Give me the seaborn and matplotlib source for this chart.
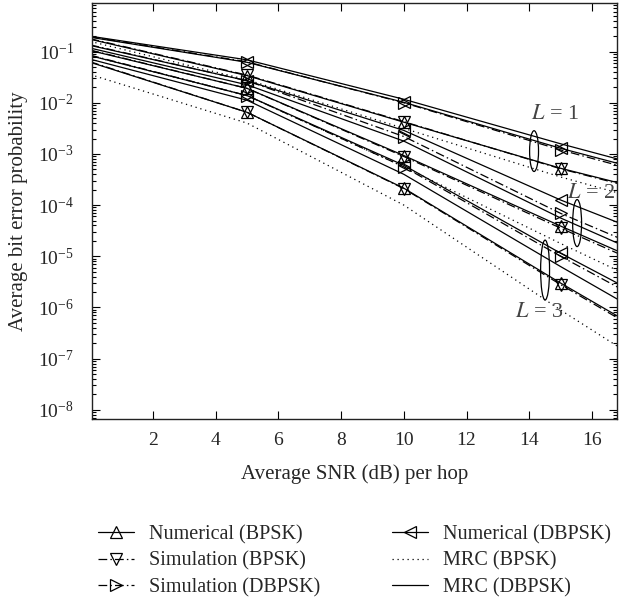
import matplotlib
matplotlib.use("Agg")
import matplotlib.pyplot as plt
from matplotlib.lines import Line2D
from matplotlib.patches import Ellipse
from matplotlib.ticker import LogLocator, NullFormatter, FixedLocator
import numpy as np
import pandas as pd
import seaborn as sns

# Average SNR per hop (dB)
snr_db = [0, 5, 10, 15, 20]

# Bit error probability for L = 1, 2, 3 branches
num_bpsk = {
    1: [1.74e-1, 3.39e-2, 4.17e-3, 5.25e-4, 8.9e-5],
    2: [1.05e-1, 1.91e-2, 9.3e-4, 3.9e-5, 1.78e-6],
    3: [6.17e-2, 6.5e-3, 2.14e-4, 3.0e-6, 5.0e-8],
}
sim_bpsk = {
    1: [1.78e-1, 3.47e-2, 4.27e-3, 5.13e-4, 8.3e-5],
    2: [1.07e-1, 1.91e-2, 8.9e-4, 3.55e-5, 1.58e-6],
    3: [6.3e-2, 6.5e-3, 2.1e-4, 2.8e-6, 4.5e-8],
}
num_dbpsk = {
    1: [1.905e-1, 6.17e-2, 1.02e-2, 1.29e-3, 2.0e-4],
    2: [1.32e-1, 2.69e-2, 2.88e-3, 1.26e-4, 7.9e-6],
    3: [8.3e-2, 1.38e-2, 6.0e-4, 1.15e-5, 2.8e-7],
}
sim_dbpsk = {
    1: [1.95e-1, 6.3e-2, 1.0e-2, 1.2e-3, 1.78e-4],
    2: [1.35e-1, 2.69e-2, 2.19e-3, 6.9e-5, 3.5e-6],
    3: [8.5e-2, 1.38e-2, 5.6e-4, 1.0e-5, 2.2e-7],
}
mrc_bpsk = {
    1: [1.58e-1, 2.82e-2, 3.16e-3, 3.55e-4, 5.0e-5],
    2: [8.3e-2, 1.38e-2, 5.6e-4, 1.78e-5, 6.3e-7],
    3: [3.55e-2, 4.0e-3, 1.0e-4, 8.9e-7, 1.0e-8],
}
mrc_dbpsk = {
    1: [2.0e-1, 6.9e-2, 1.17e-2, 1.58e-3, 2.4e-4],
    2: [1.17e-1, 2.24e-2, 1.78e-3, 5.6e-5, 2.5e-6],
    3: [7.1e-2, 1.12e-2, 4.0e-4, 6.3e-6, 1.1e-7],
}

branches = [1, 2, 3]
marker_idx = [1, 2, 3]

dashdot = (0, (7, 2.5, 1.2, 2.5))
dotted = (0, (1, 3))

series = [
    ("Numerical (BPSK)", num_bpsk, "-", "^"),
    ("Simulation (BPSK)", sim_bpsk, dashdot, "v"),
    ("Simulation (DBPSK)", sim_dbpsk, dashdot, ">"),
    ("Numerical (DBPSK)", num_dbpsk, "-", "<"),
    ("MRC (BPSK)", mrc_bpsk, dotted, None),
    ("MRC (DBPSK)", mrc_dbpsk, "-", None),
]

sns.set_style("ticks")
plt.rcParams["font.family"] = ["Liberation Serif", "DejaVu Serif"]
plt.rcParams["mathtext.fontset"] = "stix"
plt.rcParams["font.size"] = 15

fig = plt.figure(figsize=(6.19, 5.98), dpi=100)
ax = fig.add_axes([0.1486, 0.2993, 0.8482, 0.6957])

lw = 0.9
for name, table, ls, mk in series:
    for L in branches:
        df = pd.DataFrame({"snr": snr_db, "ber": table[L]})
        kws = dict(color="k", linewidth=lw, linestyle=ls)
        if mk is not None:
            kws.update(marker=mk, markevery=marker_idx, markersize=8.5,
                       markerfacecolor="none", markeredgecolor="k",
                       markeredgewidth=0.9)
        sns.lineplot(data=df, x="snr", y="ber", ax=ax, legend=False,
                     **kws)

ax.set_yscale("log")
ax.set_xlim(0.05, 16.8)
ax.set_ylim(10 ** -8.18, 10 ** -0.05)
ax.xaxis.set_major_locator(FixedLocator([2, 4, 6, 8, 10, 12, 14, 16]))
ax.yaxis.set_major_locator(FixedLocator([10.0 ** k for k in range(-8, 0)]))
ax.yaxis.set_minor_locator(LogLocator(base=10, subs=np.arange(2, 10), numticks=20))
ax.yaxis.set_minor_formatter(NullFormatter())

for s in ax.spines.values():
    s.set_visible(True)
    s.set_linewidth(1.0)
    s.set_color("#222222")
ax.tick_params(which="both", direction="in", top=True, right=True,
               color="k", width=0.8, labelsize=14)
ax.tick_params(which="major", length=6)
ax.tick_params(which="minor", length=3)
ax.tick_params(axis="y", which="major", pad=13)
ax.tick_params(axis="x", which="major", pad=9)

ax.set_xlabel("Average SNR (dB) per hop", labelpad=11, fontsize=15)
ax.set_ylabel("Average bit error probability", labelpad=7, fontsize=15)

# Branch groups
for (cx, cy, h) in [(0.842, 0.644, 0.098), (0.924, 0.471, 0.113), (0.863, 0.358, 0.144)]:
    ax.add_patch(Ellipse((cx, cy), 0.017, h, transform=ax.transAxes,
                         fill=False, edgecolor="k", linewidth=0.9))
for (tx, ty, lab) in [(0.882, 0.731, "$L$ = 1"), (0.950, 0.543, "$L$ = 2"),
                      (0.852, 0.255, "$L$ = 3")]:
    ax.text(tx, ty, lab, transform=ax.transAxes, ha="center", va="center",
            fontsize=16, color="#444444")

handles = []
for name, table, ls, mk in series:
    handles.append(Line2D([], [], color="k", linewidth=lw, linestyle=ls,
                          marker=mk if mk else None, markersize=8.5,
                          markerfacecolor="none", markeredgecolor="k",
                          markeredgewidth=0.9, label=name))
fig.legend(handles=handles, loc="upper center", ncol=2,
           bbox_to_anchor=(354.5 / 619, 1 - 525 / 598), frameon=False,
           borderpad=0, borderaxespad=0,
           handlelength=1.75, handletextpad=0.75, columnspacing=3.6,
           labelspacing=0.36, fontsize=14.5)

fig.savefig("out.png", dpi=100)
